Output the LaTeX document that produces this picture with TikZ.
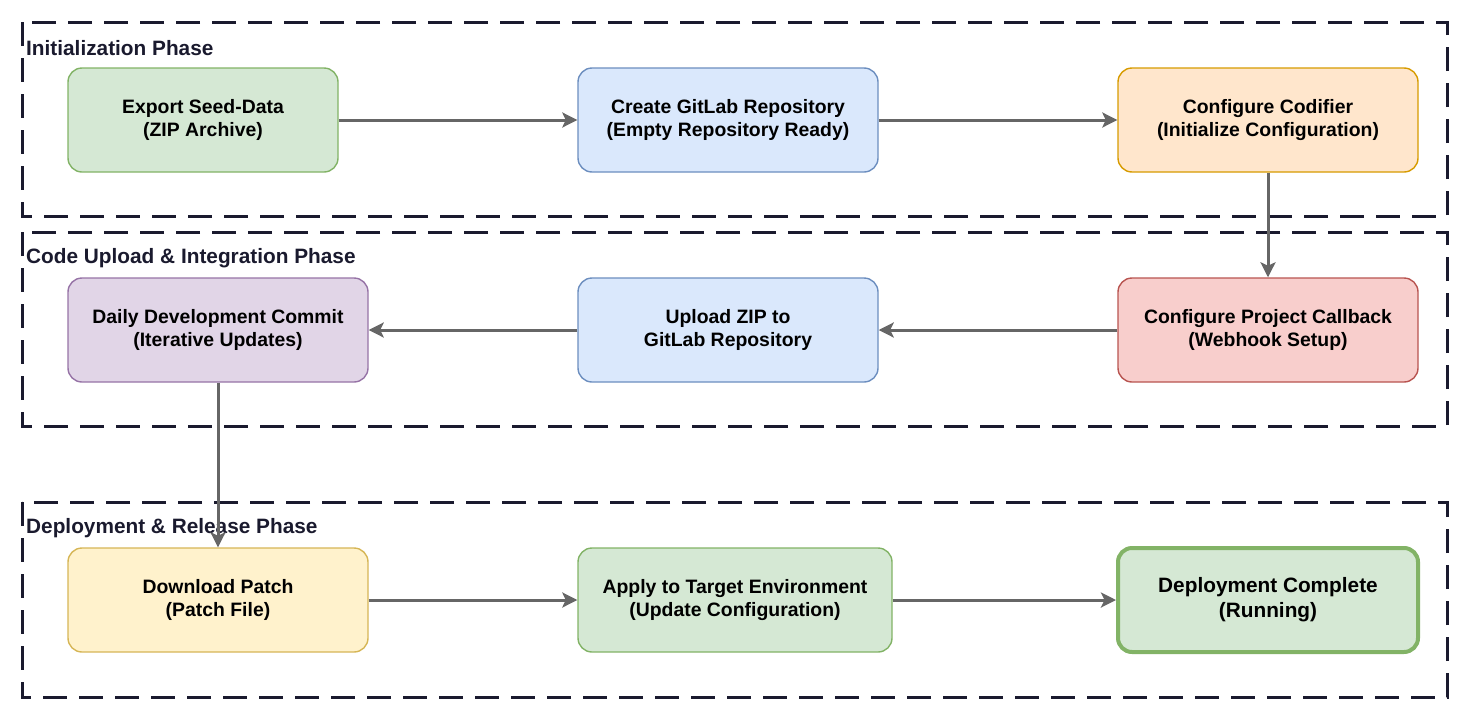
\documentclass[tikz,border=0pt]{standalone}
\usepackage{fontspec}
\setmainfont{Liberation Sans}
\usepackage{xcolor}
\usetikzlibrary{arrows.meta}
\definecolor{greenfill}{HTML}{D5E8D4}
\definecolor{greenline}{HTML}{82B366}
\definecolor{bluefill}{HTML}{DAE8FC}
\definecolor{blueline}{HTML}{6C8EBF}
\definecolor{orangefill}{HTML}{FFE6CC}
\definecolor{orangeline}{HTML}{D79B00}
\definecolor{purplefill}{HTML}{E1D5E7}
\definecolor{purpleline}{HTML}{9673A6}
\definecolor{redfill}{HTML}{F8CECC}
\definecolor{redline}{HTML}{B85450}
\definecolor{yellowfill}{HTML}{FFF2CC}
\definecolor{yellowline}{HTML}{D6B656}
\definecolor{arrowgray}{HTML}{666666}
\definecolor{phaseline}{HTML}{1A1A2E}
\tikzstyle{stepbox}=[rectangle, rounded corners=14pt, draw,% one process step
line width=1.4pt, minimum width=300pt, minimum height=104pt, align=center,
font=\fontsize{19.4}{23}\selectfont\bfseries]
\tikzstyle{phasebox}=[draw=phaseline, dash pattern=on 24pt off 12pt, line width=3pt]
\tikzstyle{phaselbl}=[anchor=west, inner sep=0pt, text=phaseline,
font=\fontsize{20.8}{24}\selectfont\bfseries]
\tikzstyle{flow}=[-{Stealth[length=15pt,width=15pt,inset=3.5pt]}, draw=arrowgray, line width=3pt]

\begin{document}
\begin{tikzpicture}[x=1pt, y=-1pt]
\useasboundingbox (0,0) rectangle (1472,726);
\draw[phasebox] (22,22) rectangle (1447,216);
\draw[phasebox] (22,232) rectangle (1447,426);
\draw[phasebox] (22,502) rectangle (1447,697);
\node[phaselbl] (initlbl) at (26,48) {Initialization Phase};
\node[phaselbl] (codelbl) at (26,258) {Code Upload \& Integration Phase};
\node[phaselbl] (deplbl) at (26,528) {Deployment \& Release Phase};
\node[stepbox, fill=greenfill, draw=greenline, minimum width=270pt] (seed) at (203,120) {Export Seed-Data\\(ZIP Archive)};
\node[stepbox, fill=bluefill, draw=blueline] (repo) at (728,120) {Create GitLab Repository\\(Empty Repository Ready)};
\node[stepbox, fill=orangefill, draw=orangeline] (codifier) at (1268,120) {Configure Codifier\\(Initialize Configuration)};
\node[stepbox, fill=purplefill, draw=purpleline] (commit) at (218,330) {Daily Development Commit\\(Iterative Updates)};
\node[stepbox, fill=bluefill, draw=blueline] (upload) at (728,330) {Upload ZIP to\\GitLab Repository};
\node[stepbox, fill=redfill, draw=redline] (callback) at (1268,330) {Configure Project Callback\\(Webhook Setup)};
\node[stepbox, fill=yellowfill, draw=yellowline] (patch) at (218,600) {Download Patch\\(Patch File)};
\node[stepbox, fill=greenfill, draw=greenline, minimum width=314pt] (apply) at (735,600) {Apply to Target Environment\\(Update Configuration)};
\node[stepbox, fill=greenfill, draw=greenline, line width=4pt, font=\fontsize{20.8}{25}\selectfont\bfseries] (done) at (1268,600) {Deployment Complete\\(Running)};
\draw[flow] (seed) -- (repo);
\draw[flow] (repo) -- (codifier);
\draw[flow] (codifier) -- (callback);
\draw[flow] (callback) -- (upload);
\draw[flow] (upload) -- (commit);
\draw[flow] (commit) -- (patch);
\draw[flow] (patch) -- (apply);
\draw[flow] (apply) -- (done);
\end{tikzpicture}
\end{document}
